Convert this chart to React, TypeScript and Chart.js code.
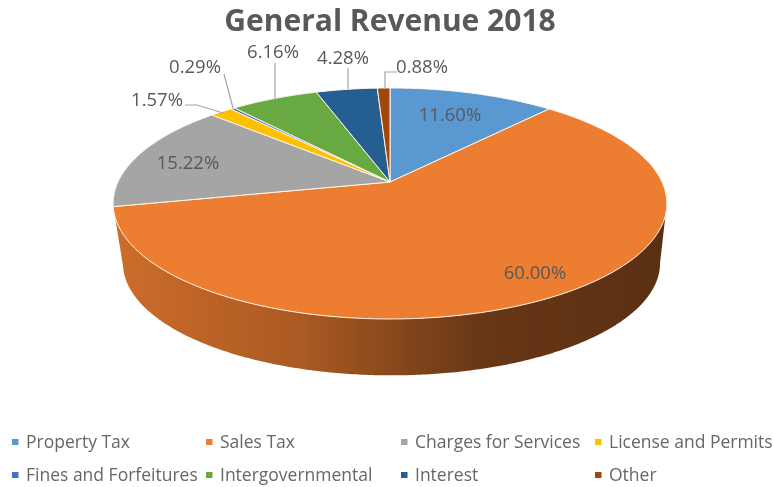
import React, { useEffect, useRef } from "react";
import { Chart, registerables } from "chart.js";

Chart.register(...registerables);

const categories = ["Property Tax", "Sales Tax", "Charges for Services", "License and Permits", "Fines and Forfeitures", "Intergovernmental", "Interest", "Other"];
const shares = [11.6, 60.0, 15.22, 1.57, 0.29, 6.16, 4.28, 0.88];
const shareLabels = ["11.60%", "60.00%", "15.22%", "1.57%", "0.29%", "6.16%", "4.28%", "0.88%"];
const sliceColors = ["#5a98d2", "#ed7d31", "#a5a5a5", "#ffc000", "#4472c4", "#68a942", "#255e91", "#9e480e"];

// Layout of the drawing, separate from the data
const APEX = { x: 390, y: 182 };
const TILT = { a: 111.5, b: 272, k: -0.186 };
const DEPTH = { dx: 1.5, dy: 60.5, scale: 0.97 };
const WALL_RANGE = [0.187, 2.93];
const LABEL_FONT = "18.5px 'Open Sans'";
const LABEL_COLOR = "#595959";
const labelAnchors = [[450, 115.5], [535, 273.5], [188, 163.5], [157, 100.5], [195, 67.5], [273, 52.5], [343, 58.5], [422, 67.5]];
const leaders: (number[][] | null)[] = [
  null, null, null,
  [[185, 105], [197, 105], [223, 113]],
  [[224, 74], [233, 108]],
  [[275, 63], [275, 99]],
  [[348, 68], [348, 89]],
  [[397, 72], [385, 72], [385, 88]],
];
const legendColumns = [12, 206, 401, 595];
const legendRows = [443, 476];
const wallShades = [[120, 0.86], [300, 0.72], [390, 0.58], [480, 0.44], [660, 0.38]];

function project(angle: number, lower = false) {
  const u = Math.cos(angle);
  const v = Math.sin(angle);
  const w = 1 + TILT.k * v;
  const s = lower ? DEPTH.scale : 1;
  return {
    x: APEX.x + (s * TILT.b * u) / w + (lower ? DEPTH.dx : 0),
    y: APEX.y + (s * TILT.a * v) / w + (lower ? DEPTH.dy : 0),
  };
}

function shade(hex: string, f: number) {
  const n = parseInt(hex.slice(1), 16);
  const r = Math.round(((n >> 16) & 255) * f);
  const g = Math.round(((n >> 8) & 255) * f);
  const b = Math.round((n & 255) * f);
  return `rgb(${r},${g},${b})`;
}

function arcPoints(start: number, end: number, lower = false) {
  const steps = Math.max(2, Math.ceil(Math.abs(end - start) / 0.01));
  const pts = [];
  for (let i = 0; i <= steps; i++) pts.push(project(start + ((end - start) * i) / steps, lower));
  return pts;
}

const tiltedPie = {
  id: "tiltedPie",
  beforeDatasetDraw(chart: any) {
    const { ctx } = chart;
    const arcs = chart.getDatasetMeta(0).data;
    ctx.save();
    // side wall: only the part of each slice that faces the viewer
    arcs.forEach((arc: any, i: number) => {
      const { startAngle, endAngle } = arc.getProps(["startAngle", "endAngle"], true);
      const from = Math.max(startAngle, WALL_RANGE[0]);
      const to = Math.min(endAngle, WALL_RANGE[1]);
      if (to <= from) return;
      const top = arcPoints(from, to);
      const bottom = arcPoints(from, to, true).reverse();
      const g = ctx.createLinearGradient(120, 0, 660, 0);
      wallShades.forEach(([x, f]) => g.addColorStop((x - 120) / 540, shade(sliceColors[i], f)));
      ctx.fillStyle = g;
      ctx.beginPath();
      [...top, ...bottom].forEach((p, j) => (j ? ctx.lineTo(p.x, p.y) : ctx.moveTo(p.x, p.y)));
      ctx.closePath();
      ctx.fill();
    });
    // top face
    arcs.forEach((arc: any, i: number) => {
      const { startAngle, endAngle } = arc.getProps(["startAngle", "endAngle"], true);
      ctx.beginPath();
      ctx.moveTo(APEX.x, APEX.y);
      arcPoints(startAngle, endAngle).forEach((p) => ctx.lineTo(p.x, p.y));
      ctx.closePath();
      ctx.fillStyle = sliceColors[i];
      ctx.fill();
      ctx.strokeStyle = "#fdf6e8";
      ctx.lineWidth = 1;
      ctx.lineJoin = "round";
      ctx.stroke();
    });
    ctx.restore();
    return false;
  },
  afterDraw(chart: any) {
    const { ctx } = chart;
    ctx.save();
    // leader lines
    ctx.strokeStyle = "#a6a6a6";
    ctx.lineWidth = 1.2;
    leaders.forEach((line) => {
      if (!line) return;
      ctx.beginPath();
      line.forEach(([x, y], j) => (j ? ctx.lineTo(x, y) : ctx.moveTo(x, y)));
      ctx.stroke();
    });
    // value labels
    ctx.font = LABEL_FONT;
    ctx.fillStyle = LABEL_COLOR;
    ctx.textAlign = "center";
    ctx.textBaseline = "middle";
    shareLabels.forEach((t, i) => ctx.fillText(t, labelAnchors[i][0], labelAnchors[i][1]));
    // legend
    ctx.textAlign = "left";
    ctx.font = "17.5px 'Open Sans'";
    categories.forEach((name, i) => {
      const x = legendColumns[i % 4];
      const y = legendRows[Math.floor(i / 4)];
      ctx.fillStyle = sliceColors[i];
      ctx.fillRect(x, y - 4, 6.5, 6);
      ctx.fillStyle = "#666666";
      ctx.fillText(name, x + 14, y);
    });
    ctx.restore();
  },
};

export default function App() {
  const ref = useRef<HTMLCanvasElement>(null);
  useEffect(() => {
    const chart = new Chart(ref.current!, {
      type: "pie",
      data: {
        labels: categories,
        datasets: [{ data: shares, backgroundColor: sliceColors, borderWidth: 0 }],
      },
      options: {
        responsive: false,
        animation: false,
        devicePixelRatio: 1,
        layout: { padding: { left: 7, top: 4 } },
        plugins: {
          legend: { display: false },
          tooltip: { enabled: false },
          title: {
            display: true,
            text: "General Revenue 2018",
            color: "#595959",
            font: { family: "'Open Sans'", size: 30, weight: "bold" },
            padding: { top: 0, bottom: 0 },
          },
        },
      },
      plugins: [tiltedPie],
    } as any);
    return () => chart.destroy();
  }, []);
  return (
    <div style={{ position: "absolute", left: 0, top: 0, width: 773, height: 487, background: "#fff" }}>
      <canvas ref={ref} width={773} height={487} style={{ display: "block" }} />
    </div>
  );
}
